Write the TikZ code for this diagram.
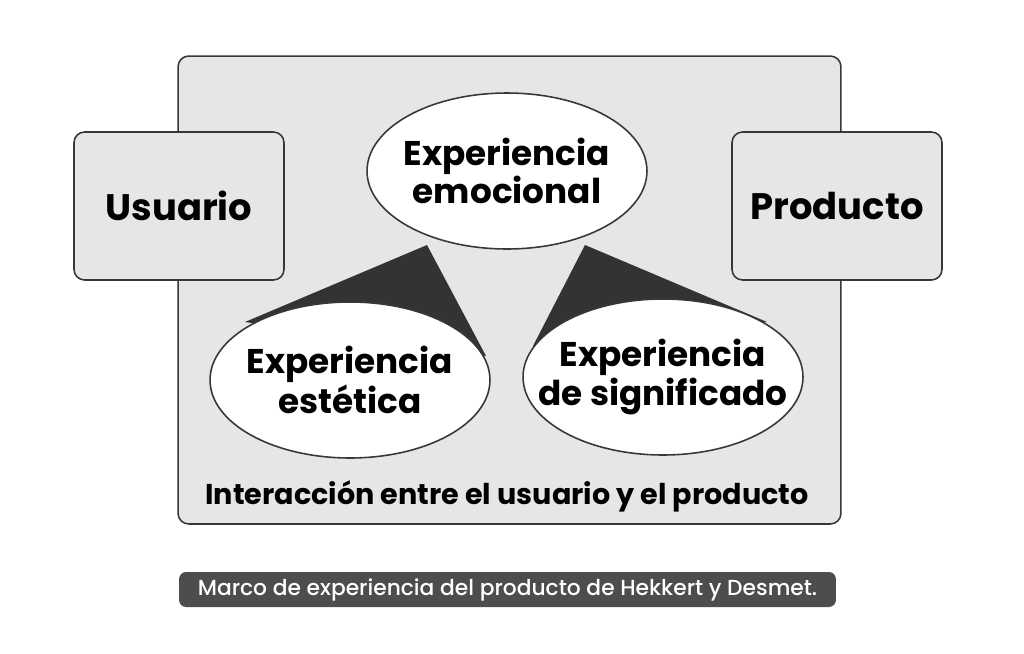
\documentclass[tikz,border=0pt]{standalone}
\usepackage{fontspec}
\setmainfont{Poppins}
\newfontfamily\medio{Poppins Medium}
\usetikzlibrary{shapes.geometric}

\definecolor{fondo}{HTML}{E6E6E6}
\definecolor{borde}{HTML}{383838}
\definecolor{cola}{HTML}{333333}
\definecolor{etiqueta}{HTML}{4D4D4D}

\begin{document}
\begin{tikzpicture}[x=0.02cm, y=-0.02cm]
        \tikzstyle{caja}=[rectangle, rounded corners=6pt, draw=borde, line width=0.9pt, fill=fondo, inner sep=0pt]
        \tikzstyle{burbuja}=[ellipse, draw=borde, line width=0.9pt, fill=white, inner xsep=-15pt, inner ysep=0pt, minimum width=5.6cm, minimum height=3.12cm, align=center, font=\bfseries\fontsize{19.5}{17}\selectfont]
        \tikzstyle{lado}=[caja, minimum width=4.2cm, minimum height=2.96cm, font=\bfseries\fontsize{21}{24}\selectfont]
        \useasboundingbox (0,0) rectangle (1024,653);

            % Marco
            \node[caja, minimum width=13.26cm, minimum height=9.36cm] (marco) at (509.5,290) {};
            \node[font=\bfseries\fontsize{16.3}{18}\selectfont] (inter) at (507,496) {Interacción entre el usuario y el producto};

            % Cajas laterales
            \node[lado] (usuario) at (179,206) {Usuario};
            \node[lado] (producto) at (837,206) {Producto};

            % Colas
            \coordinate (puntaI) at (427,245);
            \coordinate (baseIa) at (245,322);
            \coordinate (baseIb) at (486,356);
            \coordinate (puntaD) at (585,245);
            \coordinate (baseDa) at (533,346);
            \coordinate (baseDb) at (767,322);
            \fill[cola] (puntaI) -- (baseIa) -- (baseIb) -- cycle;
            \fill[cola] (puntaD) -- (baseDa) -- (baseDb) -- cycle;

            % Burbujas
            \node[burbuja] (emocional) at (507,171) {Experiencia\\emocional};
            \node[burbuja] (estetica) at (350,380) {Experiencia\\estética};
            \node[burbuja] (significado) at (663,377) {Experiencia\\de significado};

            % Pie
            \node[rectangle, rounded corners=4pt, fill=etiqueta, text=white, minimum width=13.14cm, minimum height=0.7cm, inner sep=0pt, font=\medio\fontsize{12.4}{14}\selectfont] (pie) at (507.5,589.5) {Marco de experiencia del producto de Hekkert y Desmet.};
\end{tikzpicture}
\end{document}
